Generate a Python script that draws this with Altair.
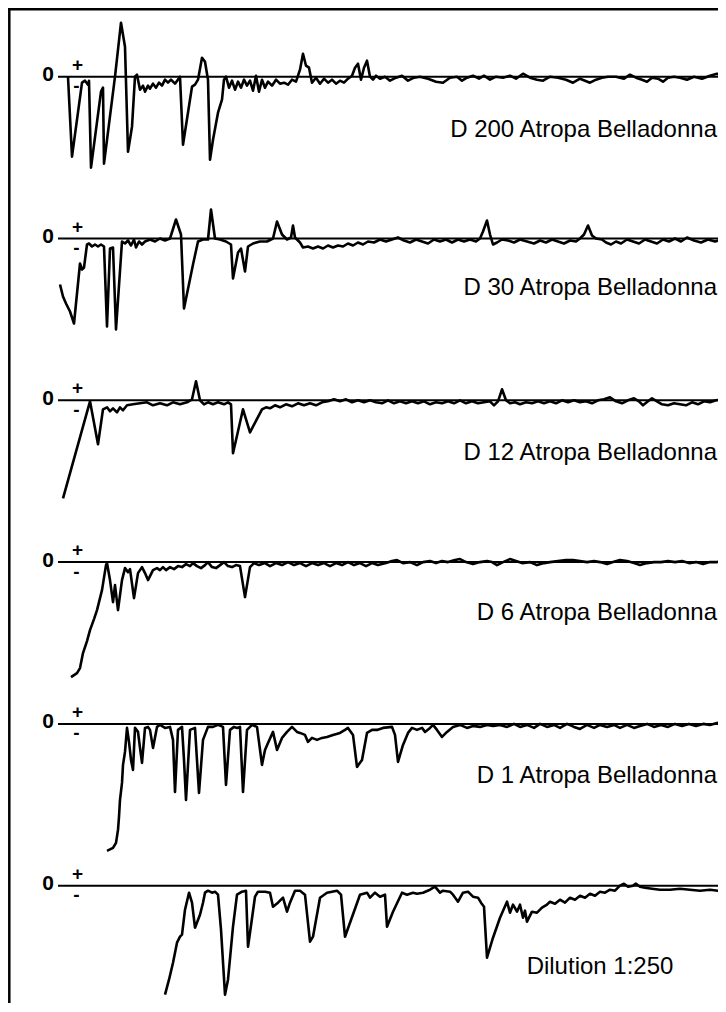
import altair as alt
import pandas as pd

# ---------------- data (time units, deflection units) -------------
d200 = [(10,0),(14,-80),(24,-6),(27,-4),(30,-8),(31,-4),(33,-91),(43,-15),(45,-11),(46,-87),
        (57,0),(63,54),(67,30),(70,-75),(74,-50),(77,0),(79,2),(82,-13),(85,-9),(87,-15),(90,-9),
        (92,-12),(95,-7),(98,-11),(101,-6),(104,-9),(107,-3),(110,-6),(113,-3),(117,-7),(122,0),
        (125,-68),(134,-10),(137,-8),(140,-3),(144,19),(147,15),(150,-3),(152,-83),(155,-63),
        (160,-36),(164,-23),(166,-3),(168,0),(171,-11),(174,-4),(177,-13),(180,-5),(183,-11),
        (186,-3),(189,-9),(192,-4),(195,-14),(198,1),(201,-15),(204,-3),(207,-11),(210,-5),
        (214,-9),(218,-3),(222,-7),(226,-6),(230,-8),(234,-3),(238,-5),(242,7),(245,23),(248,11),
        (251,9),(254,-6),(258,-1),(262,-7),(266,-2),(270,-6),(274,-3),(278,-7),(282,-4),(286,-6),
        (290,-2),(294,1),(297,9),(300,13),(303,-3),(306,9),(309,16),(312,0),(315,-3),(318,1),
        (322,-2),(327,0),(332,-4),(338,-1),(344,1),(350,-4),(356,-1),(362,0),(370,-2),(378,-5),
        (385,-6),(392,-1),(399,0),(404,-4),(409,-1),(415,1),(421,-2),(426,1),(432,-3),(438,0),
        (445,-1),(452,1),(458,-2),(465,3),(472,-1),(479,-3),(485,-4),(492,0),(500,-1),(508,-3),
        (515,-6),(522,-2),(527,-4),(532,-6),(538,-3),(544,-1),(550,0),(558,0),(566,-2),(572,2),
        (578,-1),(584,-3),(589,-5),(594,-1),(600,-2),(605,-5),(610,-1),(616,0),(622,-1),(629,-3),
        (636,0),(644,-2),(652,1),(659,3),(664,0),(666,0)]

d30 = [(2,-46),(5,-58),(8,-65),(12,-73),(16,-85),(22,-25),(24,-31),(26,-29),(29,-6),(31,-5),
       (34,-8),(37,-6),(40,-8),(43,-6),(46,-8),(49,-88),(52,-10),(55,-9),(58,-91),(64,-3),
       (67,-5),(70,-2),(73,-7),(76,-1),(78,-9),(81,-3),(84,-6),(87,-3),(92,-1),(97,-3),(102,0),
       (107,-2),(112,0),(118,19),(123,4),(126,-70),(135,-26),(140,-3),(145,-1),(150,-1),(153,29),
       (157,0),(162,-1),(168,-3),(173,-6),(175,-40),(180,-14),(183,-10),(187,-33),(190,-8),
       (195,-5),(202,-3),(209,-3),(215,0),(219,17),(224,4),(229,-1),(233,1),(235,13),(237,1),
       (242,-4),(245,-9),(250,-8),(255,-10),(260,-8),(265,-10),(270,-7),(275,-9),(280,-7),
       (285,-8),(290,-5),(295,-7),(300,-4),(305,-6),(310,-3),(316,-4),(322,-1),(328,-3),(334,-1),
       (340,1),(346,-2),(352,-4),(358,-1),(364,-3),(370,-5),(376,-1),(382,-3),(388,-1),(394,-4),
       (400,-1),(406,-3),(412,-1),(418,-3),(422,0),(425,7),(429,18),(432,4),(435,-6),(439,-4),
       (444,-1),(450,-2),(456,-4),(462,-1),(469,-3),(476,-5),(482,-2),(488,-4),(494,-1),(500,-3),
       (506,-5),(512,-2),(518,-3),(522,0),(526,4),(530,13),(534,3),(538,0),(544,-1),(548,-4),
       (553,-6),(558,-3),(563,-5),(569,-1),(575,-3),(581,-5),(587,-1),(593,-3),(599,-5),(605,-1),
       (611,-3),(617,0),(623,-3),(629,1),(636,-2),(643,-4),(650,-1),(657,-3),(664,-1),(666,0)]

d12 = [(5,-98),(32,-1),(40,-44),(45,-9),(49,-7),(52,-11),(55,-8),(59,-12),(62,-7),(65,-10),
       (69,-5),(75,-4),(82,-3),(89,-2),(95,-5),(102,-3),(109,-5),(115,-2),(122,-4),(129,-2),
       (134,1),(138,19),(142,0),(146,-4),(150,-2),(155,-4),(160,-2),(166,-4),(170,-2),(173,-4),
       (175,-53),(185,-9),(192,-32),(204,-9),(208,-7),(212,-8),(217,-5),(222,-7),(228,-4),
       (234,-6),(240,-3),(246,-5),(252,-3),(258,-5),(264,-2),(270,-1),(276,1),(282,-1),(288,1),
       (294,-2),(300,0),(306,-2),(312,0),(318,-2),(324,-3),(330,0),(336,-3),(342,-1),(348,-3),
       (354,-1),(360,-3),(366,-1),(372,-4),(378,-2),(384,-3),(390,-1),(396,-3),(402,0),(408,-3),
       (414,-1),(420,-3),(426,-2),(432,-1),(436,-5),(440,-1),(444,11),(448,0),(452,-3),(457,-2),
       (462,-4),(468,-2),(474,-3),(480,-1),(486,-3),(492,-1),(498,-3),(504,0),(510,-2),(516,0),
       (522,-2),(528,-1),(534,-3),(540,0),(546,1),(552,3),(558,-1),(564,-3),(570,0),(576,2),
       (581,-1),(585,-5),(590,-1),(594,2),(599,-1),(604,-4),(610,-5),(616,-3),(622,-4),(628,-5),
       (634,-2),(640,-4),(646,-1),(652,-2),(658,0),(664,1),(666,0)]

d6 = [(13,-115),(19,-111),(22,-106),(25,-91),(29,-79),(32,-68),(36,-57),(39,-48),(42,-36),
      (44,-28),(48,-3),(49,-1),(52,-18),(55,-40),(57,-23),(60,-48),(64,-18),(67,-6),(70,-10),
      (72,-7),(76,-36),(80,-11),(84,-5),(87,-11),(90,-18),(95,-8),(99,-6),(102,-8),(105,-5),
      (108,-8),(112,-5),(116,-7),(120,-4),(124,-5),(128,-2),(132,-4),(135,-1),(139,-4),(143,-6),
      (147,-3),(150,0),(154,-5),(158,-6),(162,-3),(166,0),(170,-4),(174,-5),(178,-3),(182,-4),
      (187,-35),(192,-5),(196,-1),(201,-3),(207,-1),(212,-4),(218,-1),(224,-3),(230,0),(236,-3),
      (242,-1),(248,-4),(254,-1),(260,-3),(266,-1),(272,-4),(278,-1),(284,-3),(290,0),(296,-3),
      (302,-1),(308,-4),(314,-1),(320,-3),(328,-1),(334,1),(339,2),(345,-1),(352,0),(359,-3),
      (365,0),(372,1),(378,-1),(384,1),(390,0),(397,2),(402,3),(408,0),(415,-2),(422,0),(429,1),
      (434,0),(439,-3),(445,0),(452,3),(458,1),(464,-1),(472,0),(479,-3),(486,-1),(492,0),
      (500,1),(508,2),(515,2),(522,1),(529,0),(536,1),(542,0),(549,-2),(555,0),(562,2),(569,1),
      (576,-1),(582,-3),(589,-1),(596,0),(603,0),(610,1),(617,0),(624,1),(631,-1),(638,0),
      (645,-2),(652,0),(659,0),(664,1),(666,0)]

d1 = [(49,-127),(55,-124),(58,-119),(60,-106),(61,-93),(62,-76),(64,-59),(65,-41),(67,-28),
      (68,-16),(69,-4),(71,-18),(73,-36),(75,-46),(77,-4),(80,-8),(82,-24),(84,-39),(87,-4),
      (90,-3),(92,-6),(95,-24),(99,-3),(102,-1),(107,-4),(112,-3),(115,-16),(117,-68),(120,-6),
      (124,-3),(126,-36),(128,-76),(132,-6),(137,-4),(141,-69),(145,-16),(150,-3),(155,-3),
      (160,-1),(165,-3),(168,-61),(172,-6),(176,-3),(179,-4),(182,-3),(185,-68),(189,-6),
      (194,-1),(199,-3),(204,-41),(207,-26),(210,-19),(215,-8),(219,-26),(224,-14),(229,-8),
      (234,-3),(239,-8),(242,-9),(247,-11),(250,-18),(254,-14),(259,-16),(264,-14),(269,-13),
      (275,-11),(282,-9),(287,-6),(290,-4),(295,-11),(299,-43),(304,-36),(309,-9),(314,-6),
      (319,-6),(325,-4),(334,-3),(337,-11),(340,-38),(345,-21),(350,-9),(354,-4),(359,-6),
      (364,-4),(367,-8),(372,-4),(375,-1),(379,-6),(384,-13),(389,-8),(395,-3),(402,-1),(409,-4),
      (415,-2),(422,-3),(429,-1),(435,-2),(442,-1),(449,-3),(456,0),(462,-3),(469,-1),(476,-4),
      (482,0),(489,-3),(496,-1),(502,-4),(509,0),(516,-3),(522,-5),(529,-1),(536,-4),(542,-1),
      (549,-3),(556,-1),(562,-4),(569,-1),(576,-4),(582,-2),(589,0),(596,-3),(603,-1),(610,-3),
      (617,0),(624,-2),(631,0),(638,-2),(645,0),(652,-1),(659,1),(666,0)]

dilution = [(107,-109),(111,-94),(115,-77),(119,-57),(122,-51),(124,-49),(127,-24),(131,-7),
            (134,-17),(137,-42),(142,-29),(145,-17),(147,-7),(150,-5),(154,-7),(157,-6),(160,-9),
            (163,-44),(167,-109),(170,-94),(175,-41),(179,-9),(184,-6),(188,-5),(190,-61),
            (192,-47),(197,-11),(200,-6),(207,-6),(212,-7),(215,-21),(220,-17),(225,-12),
            (229,-26),(232,-17),(237,-5),(242,-5),(247,-9),(252,-56),(255,-51),(262,-12),(269,-7),
            (279,-5),(283,-9),(287,-51),(292,-37),(302,-9),(309,-7),(312,-12),(317,-7),(322,-11),
            (327,-9),(329,-41),(335,-26),(344,-7),(349,-9),(355,-7),(359,-8),(365,-7),(372,-4),
            (377,-1),(382,-7),(385,-5),(392,-6),(395,-9),(400,-16),(405,-7),(410,-6),(415,-11),
            (420,-12),(423,-17),(426,-21),(429,-72),(435,-52),(442,-32),(449,-16),(452,-27),
            (455,-19),(459,-26),(462,-19),(465,-32),(467,-25),(469,-36),(474,-26),(479,-27),
            (484,-22),(489,-19),(492,-16),(497,-18),(502,-14),(507,-17),(512,-12),(517,-14),
            (522,-10),(527,-12),(532,-8),(537,-10),(542,-6),(547,-7),(552,-4),(557,-5),(562,0),
            (566,2),(570,-1),(575,0),(578,2),(582,-1),(587,-2),(594,-3),(602,-4),(612,-4),(622,-3),
            (632,-4),(642,-5),(652,-4),(660,-5),(666,-4)]

series = [d200, d30, d12, d6, d1, dilution]
labels = ["D 200 Atropa Belladonna", "D 30 Atropa Belladonna", "D 12 Atropa Belladonna",
          "D 6 Atropa Belladonna", "D 1 Atropa Belladonna", "Dilution 1:250"]

# ---------------- layout / style -------------
W, H = 710, 995
TOP = 68.7                 # units above the first zero line
STEP = 161.8               # vertical spacing of the stacked traces
X_MIN, X_MAX = -50, 660
X_END = 660
FRAME_X = -48.7
label_pos = [(659, -53), (659, -49), (659, -53), (659, -51), (659, -52), (542, -81)]
FONT = "Liberation Sans"

rows = []
for k, pts in enumerate(series):
    for t, v in pts:
        rows.append({"k": k, "t": t, "v": v})
traces = pd.DataFrame(rows)
panels = pd.DataFrame({"k": list(range(len(series))), "label": labels,
                       "lx": [p[0] for p in label_pos], "ly": [p[1] for p in label_pos]})

xs = alt.Scale(domain=[X_MIN, X_MAX], nice=False, zero=False)
ys = alt.Scale(domain=[TOP - H, TOP], nice=False, zero=False)
X = lambda f: alt.X(f, type="quantitative", scale=xs, axis=None)
Y = lambda f: alt.Y(f, type="quantitative", scale=ys, axis=None)

off = f"datum.k * {-STEP}"

trace = alt.Chart(traces).transform_calculate(y=f"datum.v + {off}").mark_line(
    color="black", strokeWidth=2.6, strokeJoin="round", clip=True).encode(
    x=X("t"), y=Y("y"), detail="k:N", order="t:Q")

zero = alt.Chart(panels).transform_calculate(
    y=off, x0="0", x1=str(X_END)).mark_rule(color="black", strokeWidth=2).encode(
    x=X("x0"), x2="x1:Q", y=Y("y"))

def bold_text(s, tx, ty, fs):
    return alt.Chart(panels).transform_calculate(
        y=f"{ty} + {off}", x0=str(tx)).mark_text(
        text=s, font=FONT, fontSize=fs, fontWeight="bold", align="center",
        baseline="middle", color="black").encode(x=X("x0"), y=Y("y"))

zlab = bold_text("0", -10, 1.5, 21)
plus = bold_text("+", 19.5, 12.0, 19)
minus = bold_text("-", 18.5, -9.5, 19)

lab_r = alt.Chart(panels).transform_filter("datum.k < 5").transform_calculate(
    y=f"datum.ly + {off}").mark_text(font=FONT, fontSize=24, align="right",
                                     baseline="middle", color="black").encode(
    x=X("lx"), y=Y("y"), text="label:N")
lab_c = alt.Chart(panels).transform_filter("datum.k == 5").transform_calculate(
    y=f"datum.ly + {off}").mark_text(font=FONT, fontSize=24, align="center",
                                     baseline="middle", color="black").encode(
    x=X("lx"), y=Y("y"), text="label:N")

frame = pd.DataFrame({"x0": [FRAME_X - 1.25, FRAME_X], "x1": [X_MAX, FRAME_X],
                      "y0": [TOP - 1.25, TOP], "y1": [TOP - 1.25, TOP - H]})
frame_rules = alt.Chart(frame).mark_rule(color="black", strokeWidth=2.5).encode(
    x=X("x0"), x2="x1:Q", y=Y("y0"), y2="y1:Q")

chart = alt.layer(frame_rules, zero, trace, zlab, plus, minus, lab_r, lab_c).properties(
    width=W, height=H,
    padding={"left": 0, "top": 0, "right": 0, "bottom": 0},
    autosize=alt.AutoSizeParams(type="none"),
).configure_view(strokeWidth=0)

chart.save("out.html", embed_options={"renderer": "svg", "actions": False})
